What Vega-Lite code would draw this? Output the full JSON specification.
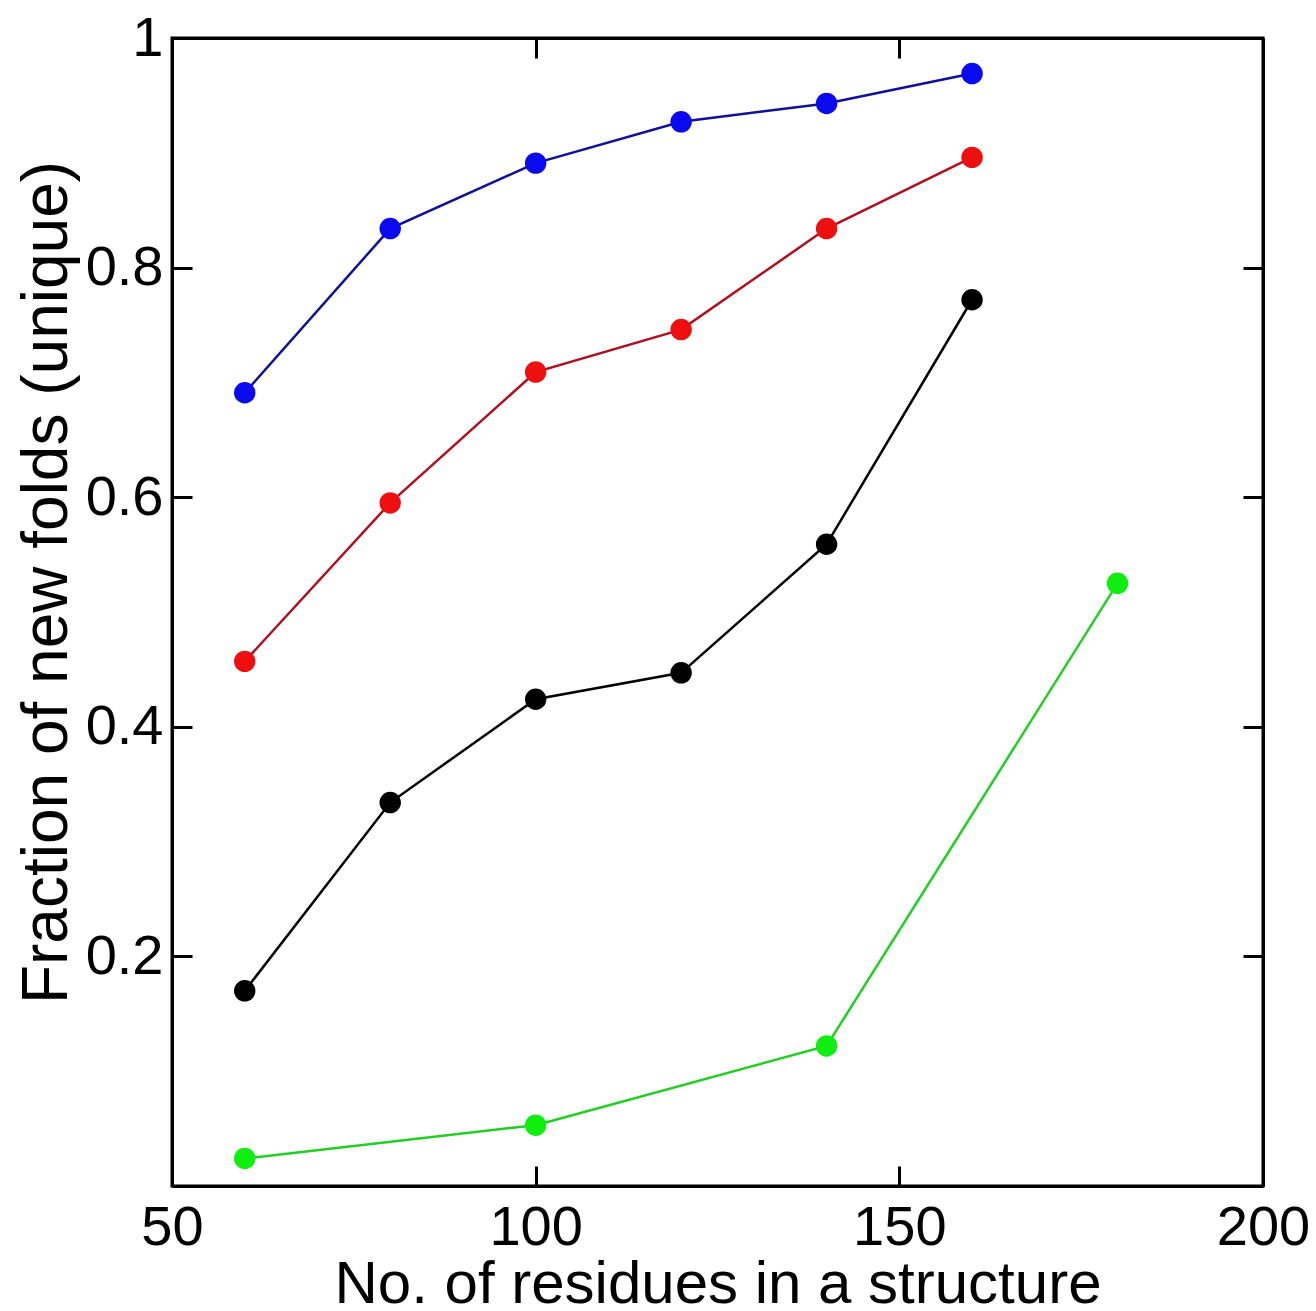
{
  "$schema": "https://vega.github.io/schema/vega-lite/v6.json",
  "width": 1091,
  "height": 1148,
  "autosize": {"type": "none"},
  "padding": {"left": 172, "top": 38, "right": 53, "bottom": 125},
  "background": "white",
  "config": {
    "view": {"stroke": "black", "strokeWidth": 3},
    "font": "Liberation Sans",
    "axis": {
      "grid": false,
      "domainColor": "black",
      "domainWidth": 3,
      "tickColor": "black",
      "tickWidth": 3,
      "tickSize": -20,
      "labelFont": "Liberation Sans",
      "labelFontSize": 56,
      "labelColor": "black",
      "titleFont": "Liberation Sans",
      "titleFontSize": 60,
      "titleFontWeight": "normal",
      "titleColor": "black"
    }
  },
  "data": {
    "values": [
      {"series": "blue", "residues": 60, "fraction": 0.691},
      {"series": "blue", "residues": 80, "fraction": 0.834},
      {"series": "blue", "residues": 100, "fraction": 0.891},
      {"series": "blue", "residues": 120, "fraction": 0.927},
      {"series": "blue", "residues": 140, "fraction": 0.943},
      {"series": "blue", "residues": 160, "fraction": 0.969},
      {"series": "red", "residues": 60, "fraction": 0.457},
      {"series": "red", "residues": 80, "fraction": 0.595},
      {"series": "red", "residues": 100, "fraction": 0.709},
      {"series": "red", "residues": 120, "fraction": 0.746},
      {"series": "red", "residues": 140, "fraction": 0.834},
      {"series": "red", "residues": 160, "fraction": 0.896},
      {"series": "black", "residues": 60, "fraction": 0.170},
      {"series": "black", "residues": 80, "fraction": 0.334},
      {"series": "black", "residues": 100, "fraction": 0.424},
      {"series": "black", "residues": 120, "fraction": 0.447},
      {"series": "black", "residues": 140, "fraction": 0.559},
      {"series": "black", "residues": 160, "fraction": 0.772},
      {"series": "green", "residues": 60, "fraction": 0.024},
      {"series": "green", "residues": 100, "fraction": 0.053},
      {"series": "green", "residues": 140, "fraction": 0.122},
      {"series": "green", "residues": 180, "fraction": 0.525}
    ]
  },
  "layer": [
    {
      "mark": {"type": "line"},
      "encoding": {
        "x": {"field": "residues", "type": "quantitative", "scale": {"domain": [50, 200], "nice": false},
              "axis": {"values": [50, 100, 150, 200], "labelPadding": 34, "title": "No. of residues in a structure", "titlePadding": 0, "labelFlush": false}},
        "y": {"field": "fraction", "type": "quantitative", "scale": {"domain": [0, 1], "nice": false},
              "axis": {"values": [0.2, 0.4, 0.6, 0.8, 1], "format": "~g", "labelPadding": 29, "title": "Fraction of new folds (unique)", "titleFontSize": 64, "titlePadding": 6, "titleY": 544}},
        "color": {"field": "series", "type": "nominal", "legend": null,
                  "scale": {"domain": ["blue", "red", "black", "green"], "range": ["#10109a", "#b01020", "#000000", "#20d020"]}},
        "strokeWidth": {"field": "series", "type": "nominal", "legend": null,
                  "scale": {"domain": ["blue", "red", "black", "green"], "range": [2.5, 2.5, 2.5, 4]}},
        "detail": {"field": "series"}
      }
    },
    {
      "mark": {"type": "point", "filled": true, "opacity": 1, "size": 460},
      "encoding": {
        "x": {"field": "residues", "type": "quantitative", "axis": null},
        "y": {"field": "fraction", "type": "quantitative", "axis": null},
        "color": {"field": "series", "type": "nominal", "legend": null,
                  "scale": {"domain": ["blue", "red", "black", "green"], "range": ["#0a0aee", "#ee1010", "#000000", "#10ee10"]}}
      }
    },
    {
      "mark": {"type": "point", "opacity": 0},
      "encoding": {
        "x": {"field": "residues", "type": "quantitative",
              "axis": {"orient": "top", "values": [50, 100, 150, 200], "labels": false, "title": null}},
        "y": {"field": "fraction", "type": "quantitative",
              "axis": {"orient": "right", "values": [0.2, 0.4, 0.6, 0.8, 1], "labels": false, "title": null}}
      }
    }
  ],
  "resolve": {"axis": {"x": "independent", "y": "independent"}, "scale": {"color": "independent"}}
}
